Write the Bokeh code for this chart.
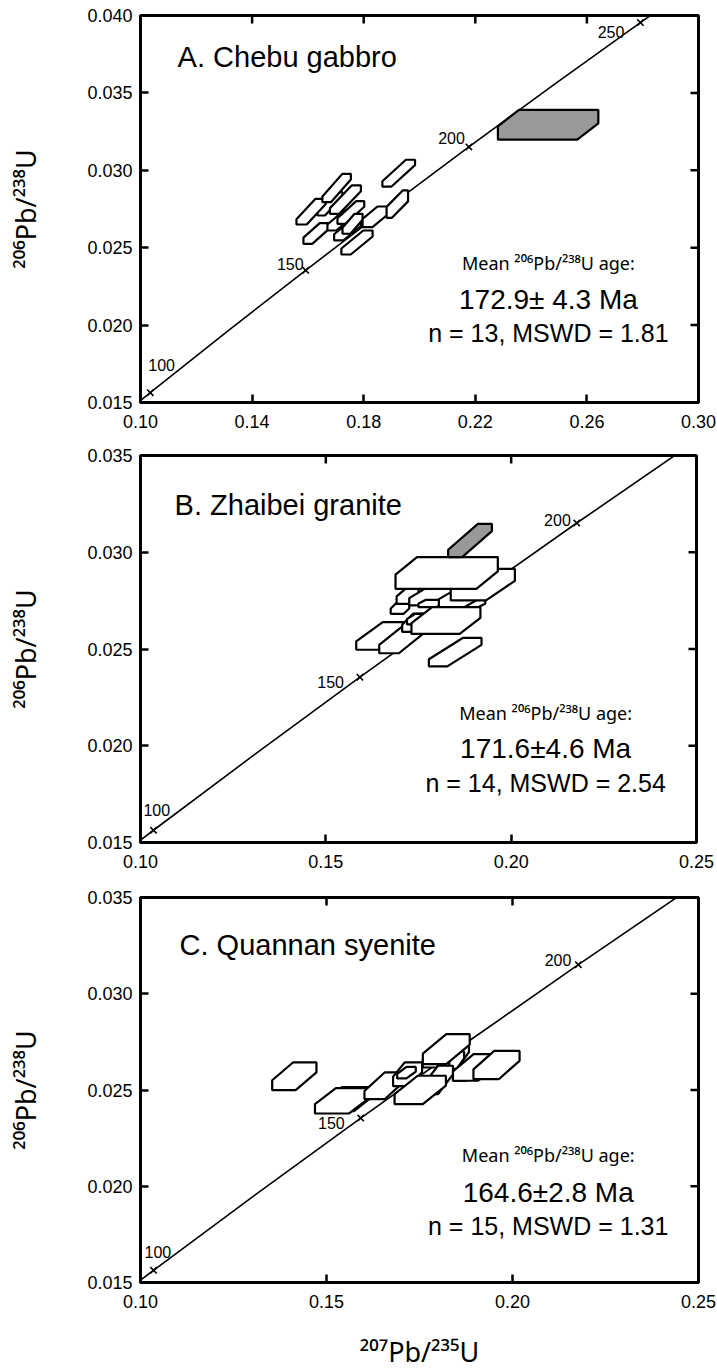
import math
from bokeh.plotting import figure
from bokeh.models import LinearAxis, FixedTicker, PrintfTickFormatter, Range1d
from bokeh.layouts import column
from bokeh.core.properties import value
from bokeh.embed import file_html
from bokeh.resources import INLINE

FONT = "Liberation Sans"
SUPFONT = "Noto Sans"

# Concordia nodes (age in Ma, 207Pb/235U, 206Pb/238U)
conc_age = [90, 100, 125, 150, 175, 200, 225, 250, 260]
conc_x = [0.09268, 0.10350, 0.13101, 0.15920, 0.18809, 0.21770, 0.24806, 0.27917, 0.29183]
conc_y = [0.014059, 0.015633, 0.019580, 0.023542, 0.027519, 0.031511, 0.035519, 0.039543, 0.041157]

# Panel A: Chebu gabbro
a_x_lo = [0.1634, 0.1559, 0.1584, 0.1652, 0.1679, 0.1670, 0.1706, 0.1694, 0.1724, 0.1720, 0.1796, 0.1882, 0.1867]
a_x_hi = [0.1724, 0.1664, 0.1674, 0.1754, 0.1790, 0.1760, 0.1802, 0.1790, 0.1796, 0.1832, 0.1885, 0.1959, 0.1984]
a_y_lo = [0.02708, 0.02650, 0.02525, 0.02794, 0.02719, 0.02611, 0.02654, 0.02547, 0.02590, 0.02456, 0.02633, 0.02693, 0.02895]
a_y_hi = [0.02859, 0.02816, 0.02659, 0.02977, 0.02902, 0.02740, 0.02801, 0.02680, 0.02719, 0.02611, 0.02766, 0.02870, 0.03068]
a_fx = [0.70, 0.65, 0.65, 0.70, 0.70, 0.65, 0.70, 0.65, 0.60, 0.70, 0.60, 0.75, 0.72]
a_fy = [0.80, 0.80, 0.70, 0.80, 0.80, 0.70, 0.75, 0.70, 0.70, 0.75, 0.60, 0.60, 0.80]
a_gray = dict(x_lo=[0.2281], x_hi=[0.2641], y_lo=[0.03198], y_hi=[0.03390], fx=[0.21], fy=[0.55])

# Panel B: Zhaibei granite
b_x_lo = [0.1778, 0.1582, 0.1644, 0.1706, 0.1719, 0.1675, 0.1691, 0.1725, 0.1750, 0.1855, 0.1805, 0.1731, 0.1837, 0.1688]
b_x_hi = [0.1920, 0.1712, 0.1762, 0.1781, 0.1774, 0.1725, 0.1750, 0.1849, 0.1818, 0.1930, 0.1930, 0.1917, 0.2010, 0.1964]
b_y_lo = [0.02410, 0.02496, 0.02478, 0.02588, 0.02627, 0.02682, 0.02733, 0.02725, 0.02716, 0.02713, 0.02716, 0.02578, 0.02751, 0.02811]
b_y_hi = [0.02558, 0.02639, 0.02621, 0.02683, 0.02682, 0.02737, 0.02811, 0.02820, 0.02754, 0.02754, 0.02820, 0.02716, 0.02914, 0.02975]
b_fx = [0.65, 0.55, 0.55, 0.40, 0.40, 0.30, 0.40, 0.40, 0.30, 0.30, 0.45, 0.30, 0.45, 0.21]
b_fy = [0.75, 0.70, 0.70, 0.60, 0.50, 0.50, 0.50, 0.60, 0.50, 0.50, 0.60, 0.60, 0.62, 0.55]
b_gray = dict(x_lo=[0.1830], x_hi=[0.1948], y_lo=[0.02975], y_hi=[0.03147], fx=[0.68], fy=[0.78])

# Panel C: Quannan syenite
c_x_lo = [0.1354, 0.1490, 0.1469, 0.1602, 0.1679, 0.1690, 0.1759, 0.1809, 0.1830, 0.1759, 0.1840, 0.1759, 0.1840, 0.1895, 0.1683]
c_x_hi = [0.1473, 0.1625, 0.1617, 0.1712, 0.1757, 0.1740, 0.1858, 0.1883, 0.1870, 0.1885, 0.1898, 0.1840, 0.1963, 0.2019, 0.1821]
c_y_lo = [0.02499, 0.02390, 0.02378, 0.02453, 0.02520, 0.02560, 0.02617, 0.02600, 0.02610, 0.02634, 0.02548, 0.02478, 0.02548, 0.02556, 0.02427]
c_y_hi = [0.02643, 0.02515, 0.02510, 0.02592, 0.02643, 0.02620, 0.02746, 0.02738, 0.02700, 0.02790, 0.02608, 0.02626, 0.02686, 0.02703, 0.02574]
c_fx = [0.47, 0.38, 0.38, 0.50, 0.40, 0.50, 0.50, 0.50, 0.50, 0.50, 0.40, 0.50, 0.45, 0.45, 0.45]
c_fy = [0.64, 0.63, 0.63, 0.70, 0.60, 0.60, 0.65, 0.70, 0.60, 0.65, 0.50, 0.70, 0.65, 0.65, 0.65]

titles = ["A. Chebu gabbro", "B. Zhaibei granite", "C. Quannan syenite"]
ages = ["172.9\u00b1 4.3 Ma", "171.6\u00b14.6 Ma", "164.6\u00b12.8 Ma"]
stats = ["n = 13, MSWD = 1.81", "n = 14, MSWD = 2.54", "n = 15, MSWD = 1.31"]
mean_label = "Mean \u00b2\u2070\u2076Pb/\u00b2\u00b3\u2078U age:"
y_label = "\u00b2\u2070\u2076Pb/\u00b2\u00b3\u2078U"
x_label = "\u00b2\u2070\u2077Pb/\u00b2\u00b3\u2075U"


def hexagons(x_lo, x_hi, y_lo, y_hi, fx, fy):
    xs, ys = [], []
    for x0, x1, y0, y1, f, g in zip(x_lo, x_hi, y_lo, y_hi, fx, fy):
        cx = f * (x1 - x0)
        cy = g * (y1 - y0)
        xs.append([x0, x0, x0 + cx, x1, x1, x1 - cx])
        ys.append([y0, y1 - cy, y1, y1, y0 + cy, y0])
    return xs, ys


def make_panel(cfg):
    p = figure(frame_width=cfg["fw"], frame_height=cfg["fh"],
               x_range=Range1d(*cfg["xr"]), y_range=Range1d(*cfg["yr"]),
               output_backend="svg", toolbar_location=None,
               x_axis_location=None, y_axis_location=None,
               min_border_left=cfg["bl"], min_border_right=cfg["br"],
               min_border_top=cfg["bt"], min_border_bottom=cfg["bb"],
               background_fill_color="white", border_fill_color="white")
    p.grid.visible = False
    p.outline_line_color = "black"
    p.outline_line_width = 3

    for loc in ["left", "below"]:
        ax = LinearAxis()
        ticks = cfg["yt"] if loc == "left" else cfg["xt"]
        ax.ticker = FixedTicker(ticks=ticks)
        ax.formatter = PrintfTickFormatter(format=cfg["yf"] if loc == "left" else cfg["xf"])
        ax.major_tick_in = 8
        ax.major_tick_out = 0
        ax.minor_tick_line_color = None
        ax.major_tick_line_width = 2.5
        ax.axis_line_width = 3
        ax.major_label_text_font = FONT
        ax.major_label_text_color = "black"
        ax.major_label_text_font_size = "18px"
        ax.major_label_standoff = 8 if loc == "left" else 12
        ax.axis_label_text_font = SUPFONT
        ax.axis_label_text_font_style = "normal"
        ax.axis_label_text_font_size = "27px"
        ax.axis_label_text_color = "black"
        if loc == "left":
            ax.axis_label = y_label
            ax.axis_label_standoff = 40
        if loc == "below" and cfg.get("xlabel"):
            ax.axis_label = x_label
            ax.axis_label_standoff = 22
        p.add_layout(ax, loc)

    # inward ticks on the top and right edges
    xmax = cfg["xr"][1]
    ymax = cfg["yr"][1]
    p.ray(x=cfg["xt"], y=[ymax] * len(cfg["xt"]), length=8, length_units="screen",
          angle=-math.pi / 2, line_color="black", line_width=2.5)
    p.ray(x=[xmax] * len(cfg["yt"]), y=cfg["yt"], length=8, length_units="screen",
          angle=math.pi, line_color="black", line_width=2.5)

    # concordia
    p.line(conc_x, conc_y, line_color="black", line_width=1.6)

    # boxes
    xs, ys = hexagons(*cfg["boxes"])
    p.patches(xs, ys, fill_color="white", line_color="black", line_width=2.2)
    if cfg.get("gray"):
        g = cfg["gray"]
        gx, gy = hexagons(g["x_lo"], g["x_hi"], g["y_lo"], g["y_hi"], g["fx"], g["fy"])
        p.patches(gx, gy, fill_color="#999999", line_color="black", line_width=2.2)

    # age markers
    idx = [conc_age.index(a) for a, *_ in cfg["age_labels"]]
    mx = [conc_x[i] for i in idx]
    my = [conc_y[i] for i in idx]
    p.scatter(mx, my, marker="x", size=9, line_color="black", line_width=1.6)
    for (a, align, xo, yo), x, y in zip(cfg["age_labels"], mx, my):
        p.text([x], [y], text=[str(a)], text_align=align, text_baseline="middle",
               x_offset=xo, y_offset=yo, text_font=value(FONT), text_font_size="16px",
               text_color="black")

    # annotations
    p.text([cfg["title_xy"][0]], [cfg["title_xy"][1]], text=[cfg["title"]], text_align="left",
           text_baseline="middle", text_font=value(FONT), text_font_size="29px", text_color="black")
    tx = cfg["txt_x"]
    p.text([tx], [cfg["txt_y"][0]], text=[mean_label], text_align="center", text_baseline="middle",
           text_font=value(SUPFONT), text_font_size="18px", text_color="black")
    p.text([tx], [cfg["txt_y"][1]], text=[cfg["age"]], text_align="center", text_baseline="middle",
           text_font=value(FONT), text_font_size="28px", text_color="black")
    p.text([tx], [cfg["txt_y"][2]], text=[cfg["stat"]], text_align="center", text_baseline="middle",
           text_font=value(FONT), text_font_size="25px", text_color="black")
    return p


cfgA = dict(fw=558, fh=387, bl=138, br=21, bt=15, bb=33,
            xr=(0.10, 0.30), yr=(0.015, 0.040),
            xt=[0.10, 0.14, 0.18, 0.22, 0.26, 0.30], yt=[0.015, 0.020, 0.025, 0.030, 0.035, 0.040],
            xf="%.2f", yf="%.3f",
            boxes=(a_x_lo, a_x_hi, a_y_lo, a_y_hi, a_fx, a_fy), gray=a_gray,
            age_labels=[(100, "left", -2, -28), (150, "right", -2, -6), (200, "right", -4, -9), (250, "right", -16, 9)],
            title=titles[0], title_xy=(0.1133, 0.03729),
            age=ages[0], stat=stats[0], txt_x=0.2462, txt_y=[0.02398, 0.02165, 0.01946])

cfgB = dict(fw=556, fh=387, bl=138, br=23, bt=20, bb=33,
            xr=(0.10, 0.25), yr=(0.015, 0.035),
            xt=[0.10, 0.15, 0.20, 0.25], yt=[0.015, 0.020, 0.025, 0.030, 0.035],
            xf="%.2f", yf="%.3f",
            boxes=(b_x_lo, b_x_hi, b_y_lo, b_y_hi, b_fx, b_fy), gray=b_gray,
            age_labels=[(100, "left", -10, -20), (150, "right", -16, 5), (200, "right", -6, -3)],
            title=titles[1], title_xy=(0.1092, 0.03242),
            age=ages[1], stat=stats[1], txt_x=0.2093, txt_y=[0.02167, 0.01986, 0.01805])

cfgC = dict(fw=558, fh=385, bl=140, br=19, bt=22, bb=87, xlabel=True,
            xr=(0.10, 0.25), yr=(0.015, 0.035),
            xt=[0.10, 0.15, 0.20, 0.25], yt=[0.015, 0.020, 0.025, 0.030, 0.035],
            xf="%.2f", yf="%.3f",
            boxes=(c_x_lo, c_x_hi, c_y_lo, c_y_hi, c_fx, c_fy), gray=None,
            age_labels=[(100, "left", -9, -18), (150, "right", -16, 5), (200, "right", -7, -5)],
            title=titles[2], title_xy=(0.1105, 0.03251),
            age=ages[2], stat=stats[2], txt_x=0.2096, txt_y=[0.02160, 0.01968, 0.01796])

pa = make_panel(cfgA)
pb = make_panel(cfgB)
pc = make_panel(cfgC)

layout = column(pa, pb, pc, spacing=0)
open("out.html", "w").write(file_html(layout, INLINE))
